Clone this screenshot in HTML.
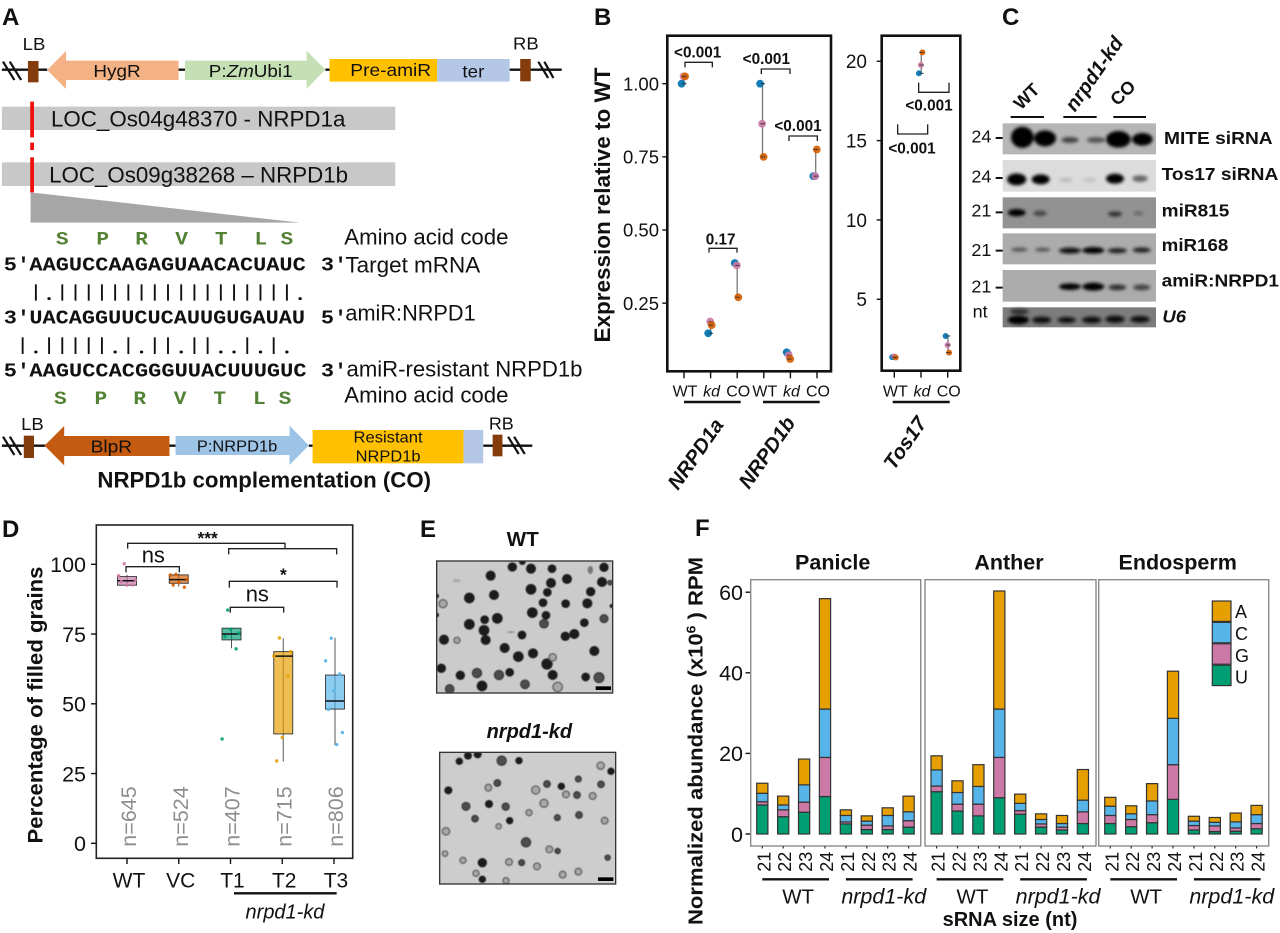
<!DOCTYPE html>
<html lang="en">
<head>
<meta charset="utf-8">
<title>NRPD1 figure</title>
<style>
html,body{margin:0;padding:0;background:#fff;}
svg{display:block;}
text{font-family:"Liberation Sans",Arial,sans-serif;fill:#111;}
.b{font-weight:bold;}
.i{font-style:italic;}
.m{font-family:"Liberation Mono",monospace;font-weight:bold;}
.aa{font-family:"Liberation Mono",monospace;font-weight:bold;fill:#548235;font-size:56px;text-anchor:middle;}
.c{text-anchor:middle;}
.k{font-size:67px;}
.g{filter:url(#soft);}
.d{fill:#1c1c1c;}
.n{fill:#4e4e4e;stroke:#2e2e2e;stroke-width:3;}
.l{fill:#a8a8a8;stroke:#5e5e5e;stroke-width:4;}
</style>
</head>
<body>
<svg id="figure" xmlns="http://www.w3.org/2000/svg" width="1280" height="933" viewBox="0 0 1280 933">
<defs>
<filter id="soft" x="-10%" y="-10%" width="120%" height="120%"><feGaussianBlur stdDeviation="1.6"/></filter>
<filter id="band" x="-40%" y="-80%" width="180%" height="260%"><feGaussianBlur stdDeviation="5"/></filter>
<clipPath id="clipWT"><rect x="50" y="153" width="528" height="396"/></clipPath>
<clipPath id="clipKD"><rect x="59" y="727" width="528" height="395"/></clipPath>
</defs>
<rect x="0" y="0" width="1280" height="933" fill="#fff"/>

<text x="2" y="25" class="b" font-size="24">A</text>
<text x="594" y="25" class="b" font-size="24">B</text>
<text x="1002" y="25" class="b" font-size="24">C</text>
<text x="2" y="537" class="b" font-size="24">D</text>
<text x="420" y="537" class="b" font-size="24">E</text>
<text x="695" y="536" class="b" font-size="24">F</text>

<!-- PANEL A top -->
<g id="panel-a-top" transform="scale(0.3775,0.33333)">
<path d="M5 209H125M473 209H490M862 209H873M1350 209H1488" stroke="#111" stroke-width="7" fill="none"/>
<path d="M8 185L38 240M26 185L56 240M1426 185L1452 234M1442 185L1466 234" stroke="#111" stroke-width="6" fill="none"/>
<rect x="74" y="183" width="28" height="64" fill="#843c0c"/>
<rect x="1378" y="177" width="28" height="67" fill="#843c0c"/>
<polygon points="125,210 175,153 175,182 473,182 473,240 175,240 175,267" fill="#f4b183"/>
<polygon points="490,182 812,182 812,152 862,209 812,267 812,240 490,240" fill="#c5e0b4"/>
<rect x="873" y="177" width="285" height="68" fill="#ffc000"/>
<rect x="1158" y="177" width="192" height="68" fill="#b4c7e7"/>
<text x="90" y="150" class="c" font-size="54" textLength="60" lengthAdjust="spacingAndGlyphs">LB</text>
<text x="1393" y="148" class="c" font-size="54" textLength="68" lengthAdjust="spacingAndGlyphs">RB</text>
<text x="310" y="231" class="c" font-size="54" textLength="125" lengthAdjust="spacingAndGlyphs">HygR</text>
<text x="664" y="231" class="c" font-size="54" textLength="222" lengthAdjust="spacingAndGlyphs">P:<tspan class="i">Zm</tspan>Ubi1</text>
<text x="1035" y="228" class="c" font-size="54" textLength="214" lengthAdjust="spacingAndGlyphs">Pre-amiR</text>
<text x="1254" y="232" class="c" font-size="54" textLength="58" lengthAdjust="spacingAndGlyphs">ter</text>
<rect x="5" y="320" width="1042" height="70" fill="#c8c8c8"/>
<rect x="5" y="487" width="1042" height="71" fill="#c8c8c8"/>
<text x="135" y="380" font-size="67" textLength="780" lengthAdjust="spacingAndGlyphs">LOC_Os04g48370 - NRPD1a</text>
<text x="130" y="548" font-size="67" textLength="792" lengthAdjust="spacingAndGlyphs">LOC_Os09g38268 – NRPD1b</text>
<path d="M85 305V412M85 428V450M85 472V577" stroke="#f01010" stroke-width="10" fill="none"/>
<polygon points="81,577 81,668 795,668" fill="#a6a6a6"/>
</g>

<!-- PANEL A sequences -->
<g id="panel-a-seq" transform="translate(0,220) scale(0.3775,0.33333)">
<g>
<text class="aa" x="165" y="73">S</text><text class="aa" x="272" y="73">P</text><text class="aa" x="375" y="73">R</text><text class="aa" x="481" y="73">V</text><text class="aa" x="586" y="73">T</text><text class="aa" x="691" y="73">L</text><text class="aa" x="760" y="73">S</text>
</g>
<text x="912" y="73" class="k" textLength="435" lengthAdjust="spacingAndGlyphs">Amino acid code</text>
<text x="10" y="152" class="m" font-size="58">5′</text>
<text x="78" y="152" class="m" font-size="58" textLength="732" lengthAdjust="spacingAndGlyphs">AAGUCCAAGAGUAACACUAUC</text>
<text x="850" y="152" class="m" font-size="58">3′</text>
<text x="915" y="157" class="k" textLength="357" lengthAdjust="spacingAndGlyphs">Target mRNA</text>
<g id="match-row-1"></g>
<text x="10" y="310" class="m" font-size="58">3′</text>
<text x="78" y="310" class="m" font-size="58" textLength="730" lengthAdjust="spacingAndGlyphs">UACAGGUUCUCAUUGUGAUAU</text>
<text x="850" y="310" class="m" font-size="58">5′</text>
<text x="915" y="302" class="k" textLength="345" lengthAdjust="spacingAndGlyphs">amiR:NRPD1</text>
<g id="match-row-2"></g>
<text x="10" y="470" class="m" font-size="58">5′</text>
<text x="78" y="470" class="m" font-size="58" textLength="734" lengthAdjust="spacingAndGlyphs">AAGUCCACGGGUUACUUUGUC</text>
<text x="850" y="470" class="m" font-size="58">3′</text>
<text x="918" y="470" class="k" textLength="625" lengthAdjust="spacingAndGlyphs">amiR-resistant NRPD1b</text>
<g>
<text class="aa" x="160" y="552">S</text><text class="aa" x="267" y="552">P</text><text class="aa" x="370" y="552">R</text><text class="aa" x="477" y="552">V</text><text class="aa" x="582" y="552">T</text><text class="aa" x="687" y="552">L</text><text class="aa" x="755" y="552">S</text>
</g>
<text x="912" y="548" class="k" textLength="435" lengthAdjust="spacingAndGlyphs">Amino acid code</text>

<path d="M5 677H120M449 677H465M818 677H828M1280 677H1410" stroke="#111" stroke-width="7" fill="none"/>
<path d="M8 650L38 705M26 650L56 705M1346 650L1374 702M1362 650L1390 702" stroke="#111" stroke-width="6" fill="none"/>
<rect x="63" y="647" width="27" height="67" fill="#843c0c"/>
<rect x="1305" y="644" width="26" height="65" fill="#843c0c"/>
<polygon points="118,677 170,618 170,648 449,648 449,708 170,708 170,736" fill="#c55a11"/>
<polygon points="465,648 767,648 767,617 818,676 767,735 767,705 465,705" fill="#9dc3e6"/>
<rect x="828" y="630" width="400" height="100" fill="#ffc000"/>
<rect x="1228" y="630" width="52" height="100" fill="#b4c7e7"/>
<text x="86" y="630" class="c" font-size="54" textLength="60" lengthAdjust="spacingAndGlyphs">LB</text>
<text x="1328" y="628" class="c" font-size="54" textLength="66" lengthAdjust="spacingAndGlyphs">RB</text>
<text x="295" y="697" class="c" font-size="54" textLength="110" lengthAdjust="spacingAndGlyphs">BlpR</text>
<text x="628" y="695" class="c" font-size="48" textLength="213" lengthAdjust="spacingAndGlyphs">P:NRPD1b</text>
<text x="1028" y="668" class="c" font-size="48" textLength="183" lengthAdjust="spacingAndGlyphs">Resistant</text>
<text x="1028" y="725" class="c" font-size="48" textLength="172" lengthAdjust="spacingAndGlyphs">NRPD1b</text>
<text x="258" y="802" class="b" font-size="67" textLength="884" lengthAdjust="spacingAndGlyphs">NRPD1b complementation (CO)</text>
</g>

<!-- PANEL B -->
<g id="panel-b">
<rect x="667.3" y="35.7" width="163.7" height="335.6" fill="none" stroke="#111" stroke-width="2.6"/>
<rect x="881.7" y="35.7" width="78.6" height="335" fill="none" stroke="#111" stroke-width="2.6"/>
<text transform="translate(610,205) rotate(-90)" class="b c" font-size="22" textLength="275" lengthAdjust="spacingAndGlyphs">Expression relative to WT</text>
<g id="b-marks"></g>
<g transform="translate(590,20) scale(0.33333)">
<path d="M285 142V127H367V142" fill="none" stroke="#222" stroke-width="4"/>
<text x="323" y="112" class="b c" font-size="46">&lt;0.001</text>
<path d="M514 162V147H600V162" fill="none" stroke="#222" stroke-width="4"/>
<text x="529" y="132" class="b c" font-size="46">&lt;0.001</text>
<path d="M597 363V348H682V363" fill="none" stroke="#222" stroke-width="4"/>
<text x="624" y="333" class="b c" font-size="46">&lt;0.001</text>
<path d="M357 698V685H441V698" fill="none" stroke="#222" stroke-width="4"/>
<text x="392" y="673" class="b c" font-size="46">0.17</text>
<path d="M986 188V217H1077V188" fill="none" stroke="#222" stroke-width="4"/>
<text x="1017" y="272" class="b c" font-size="46">&lt;0.001</text>
<path d="M923 313V342H1013V313" fill="none" stroke="#222" stroke-width="4"/>
<text x="966" y="400" class="b c" font-size="46">&lt;0.001</text>
</g>
<path d="M684 402H740.7M763 402H819.7M892.7 402H949.7" stroke="#111" stroke-width="2.4"/>
<text transform="translate(678,491) rotate(-55)" class="b i" font-size="20.5">NRPD1a</text>
<text transform="translate(749,490) rotate(-55)" class="b i" font-size="20.5">NRPD1b</text>
<text transform="translate(894,471) rotate(-55)" class="b i" font-size="20.5">Tos17</text>
</g>

<!-- PANEL C -->
<g id="panel-c" transform="translate(960,20) scale(0.33333)">
<text transform="translate(183,272) rotate(-45)" class="b" font-size="54">WT</text>
<text transform="translate(345,278) rotate(-55)" class="b i" font-size="60">nrpd1-kd</text>
<text transform="translate(473,260) rotate(-45)" class="b" font-size="54">CO</text>
<path d="M152 291H252M310 291H410M460 291H558" stroke="#111" stroke-width="6"/>
<g>
<rect x="128" y="310" width="460" height="93" fill="#b6b6b6"/>
<g filter="url(#band)"><ellipse cx="187" cy="352" rx="34" ry="32" fill="#000"/><ellipse cx="255" cy="355" rx="33" ry="24" fill="#000"/><ellipse cx="330" cy="360" rx="26" ry="9" fill="#444"/><ellipse cx="408" cy="360" rx="28" ry="9" fill="#555"/><ellipse cx="475" cy="358" rx="37" ry="25" fill="#000"/><ellipse cx="547" cy="358" rx="31" ry="19" fill="#000"/></g>
</g>
<g>
<rect x="128" y="420" width="460" height="95" fill="#dcdcdc"/>
<g filter="url(#band)"><ellipse cx="170" cy="478" rx="29" ry="18" fill="#000"/><ellipse cx="242" cy="478" rx="27" ry="15" fill="#000"/><ellipse cx="318" cy="480" rx="20" ry="6" fill="#b8b8b8"/><ellipse cx="390" cy="480" rx="20" ry="6" fill="#c0c0c0"/><ellipse cx="465" cy="476" rx="27" ry="15" fill="#000"/><ellipse cx="540" cy="476" rx="23" ry="10" fill="#666"/></g>
</g>
<g>
<rect x="128" y="532" width="460" height="93" fill="#929292"/>
<g filter="url(#band)"><ellipse cx="170" cy="578" rx="27" ry="11" fill="#000"/><ellipse cx="240" cy="580" rx="20" ry="8" fill="#444"/><ellipse cx="465" cy="582" rx="21" ry="8" fill="#333"/><ellipse cx="535" cy="580" rx="15" ry="6" fill="#666"/></g>
</g>
<g>
<rect x="128" y="640" width="460" height="93" fill="#acacac"/>
<g filter="url(#band)"><ellipse cx="178" cy="689" rx="25" ry="6" fill="#555"/><ellipse cx="248" cy="689" rx="23" ry="6" fill="#555"/><ellipse cx="330" cy="692" rx="33" ry="9" fill="#111"/><ellipse cx="400" cy="691" rx="33" ry="10" fill="#000"/><ellipse cx="472" cy="692" rx="29" ry="8" fill="#222"/><ellipse cx="545" cy="690" rx="27" ry="8" fill="#222"/></g>
</g>
<g>
<rect x="128" y="750" width="460" height="95" fill="#acacac"/>
<g filter="url(#band)"><ellipse cx="330" cy="800" rx="33" ry="10" fill="#000"/><ellipse cx="400" cy="800" rx="33" ry="12" fill="#000"/><ellipse cx="472" cy="802" rx="27" ry="9" fill="#333"/><ellipse cx="545" cy="802" rx="26" ry="9" fill="#444"/></g>
</g>
<g>
<rect x="128" y="862" width="460" height="60" fill="#7c7c7c"/>
<g filter="url(#band)"><ellipse cx="175" cy="900" rx="32" ry="13" fill="#000"/><ellipse cx="178" cy="875" rx="28" ry="9" fill="#333"/><ellipse cx="245" cy="900" rx="29" ry="10" fill="#111"/><ellipse cx="320" cy="900" rx="27" ry="9" fill="#111"/><ellipse cx="395" cy="900" rx="29" ry="10" fill="#111"/><ellipse cx="465" cy="898" rx="29" ry="11" fill="#111"/><ellipse cx="540" cy="898" rx="29" ry="10" fill="#111"/></g>
</g>
<g font-size="54">
<text x="34" y="368">24</text>
<text x="34" y="488">24</text>
<text x="34" y="590">21</text>
<text x="34" y="708">21</text>
<text x="34" y="818">21</text>
<text x="38" y="892">nt</text>
<path d="M107 354H128M107 474H128M107 577H128M107 692H128M107 803H128" stroke="#111" stroke-width="6"/>
</g>
<g class="b" font-size="52">
<text x="612" y="372" textLength="326" lengthAdjust="spacingAndGlyphs">MITE siRNA</text>
<text x="605" y="480" textLength="350" lengthAdjust="spacingAndGlyphs">Tos17 siRNA</text>
<text x="605" y="590" textLength="203" lengthAdjust="spacingAndGlyphs">miR815</text>
<text x="605" y="693" textLength="200" lengthAdjust="spacingAndGlyphs">miR168</text>
<text x="605" y="800" textLength="352" lengthAdjust="spacingAndGlyphs">amiR:NRPD1</text>
<text x="607" y="908" class="i" textLength="71" lengthAdjust="spacingAndGlyphs">U6</text>
</g>
</g>

<!-- PANEL D -->
<g id="panel-d">
<rect x="96.3" y="525" width="256.4" height="333.3" fill="none" stroke="#222" stroke-width="1.6"/>
<text transform="translate(42.7,705) rotate(-90)" class="b c" font-size="21" textLength="277" lengthAdjust="spacingAndGlyphs">Percentage of filled grains</text>
<g id="d-marks"></g>
<g transform="translate(0,510) scale(0.33333)">
<path d="M383 116V100H855V116" fill="none" stroke="#222" stroke-width="4"/>
<path d="M686 133V116H1010V133" fill="none" stroke="#222" stroke-width="4"/>
<text x="623" y="102" class="b c" font-size="52">***</text>
<path d="M378 187V170H538V187" fill="none" stroke="#222" stroke-width="4"/>
<text x="460" y="158" class="c" font-size="66">ns</text>
<path d="M688 233V214H1011V233" fill="none" stroke="#222" stroke-width="4"/>
<text x="850" y="212" class="b c" font-size="52">*</text>
<path d="M691 308V292H851V308" fill="none" stroke="#222" stroke-width="4"/>
<text x="772" y="275" class="c" font-size="66">ns</text>
<path d="M702 1150H1010" stroke="#111" stroke-width="7"/>
<text x="855" y="1225" class="i c" font-size="60">nrpd1-kd</text>
</g>
</g>

<!-- PANEL E -->
<g id="panel-e" transform="translate(420,510) scale(0.33333)">
<text x="308" y="108" class="b c" font-size="62">WT</text>
<text x="328" y="684" class="b i c" font-size="60">nrpd1-kd</text>
<g>
<rect x="50" y="153" width="528" height="396" fill="#cbcbcb"/>
<g clip-path="url(#clipWT)"><g class="g">
<circle class="d" cx="212" cy="197" r="15"/><circle class="d" cx="277" cy="171" r="14"/><circle class="d" cx="333" cy="176" r="15"/><circle class="d" cx="396" cy="176" r="13"/><circle class="d" cx="441" cy="207" r="15"/><circle class="d" cx="552" cy="172" r="14"/><circle class="d" cx="546" cy="216" r="15"/><circle class="d" cx="393" cy="219" r="15"/><circle class="d" cx="333" cy="238" r="16"/><circle class="d" cx="382" cy="247" r="13"/><circle class="d" cx="512" cy="245" r="14"/><circle class="d" cx="148" cy="264" r="16"/><circle class="d" cx="222" cy="255" r="15"/><circle class="l" cx="69" cy="281" r="12"/><circle class="d" cx="369" cy="278" r="13"/><circle class="d" cx="437" cy="281" r="13"/><circle class="d" cx="502" cy="280" r="15"/><circle class="d" cx="337" cy="308" r="16"/><circle class="d" cx="378" cy="316" r="13"/><circle class="d" cx="194" cy="329" r="13"/><circle class="d" cx="232" cy="325" r="16"/><circle class="d" cx="148" cy="343" r="16"/><circle class="n" cx="372" cy="341" r="13"/><circle class="d" cx="493" cy="338" r="13"/><circle class="n" cx="552" cy="326" r="12"/><circle class="d" cx="192" cy="361" r="16"/><circle class="d" cx="197" cy="390" r="15"/><circle class="d" cx="72" cy="389" r="15"/><circle class="d" cx="306" cy="375" r="13"/><circle class="d" cx="436" cy="379" r="14"/><circle class="d" cx="463" cy="372" r="15"/><circle class="d" cx="254" cy="414" r="15"/><circle class="d" cx="295" cy="440" r="16"/><circle class="d" cx="339" cy="430" r="15"/><circle class="d" cx="523" cy="423" r="15"/><circle class="d" cx="381" cy="462" r="17"/><circle class="d" cx="64" cy="475" r="14"/><circle class="d" cx="121" cy="496" r="14"/><circle class="n" cx="171" cy="489" r="14"/><circle class="n" cx="237" cy="495" r="14"/><circle class="d" cx="269" cy="487" r="13"/><circle class="d" cx="398" cy="495" r="15"/><circle class="d" cx="497" cy="501" r="13"/><circle class="n" cx="537" cy="503" r="15"/><circle class="n" cx="315" cy="523" r="13"/><circle class="d" cx="186" cy="528" r="16"/><circle class="n" cx="89" cy="537" r="13"/><circle class="l" cx="413" cy="531" r="14"/><circle class="d" cx="307" cy="155" r="10"/><circle class="d" cx="50" cy="258" r="7"/><circle class="d" cx="50" cy="315" r="7"/><circle class="d" cx="575" cy="288" r="6"/><circle class="n" cx="570" cy="218" r="7"/><circle class="l" cx="111" cy="391" r="9"/><circle class="l" cx="398" cy="442" r="11"/><ellipse cx="511" cy="180" rx="8" ry="12" fill="#777"/><ellipse cx="110" cy="212" rx="12" ry="5" fill="#aaa"/><ellipse cx="272" cy="366" rx="12" ry="3" fill="#999"/>
</g></g>
<rect x="527" y="529" width="46" height="11" fill="#000"/>
<rect x="50" y="153" width="528" height="396" fill="none" stroke="#333" stroke-width="4"/>
</g>
<g>
<rect x="59" y="727" width="528" height="395" fill="#cdcdcd"/>
<g clip-path="url(#clipKD)"><g class="g">
<circle class="d" cx="118" cy="754" r="11"/><circle class="d" cx="144" cy="737" r="12"/><circle class="d" cx="173" cy="733" r="12"/><circle class="n" cx="245" cy="752" r="14"/><circle class="d" cx="297" cy="752" r="11"/><circle class="d" cx="573" cy="784" r="11"/><circle class="l" cx="542" cy="767" r="11"/><circle class="d" cx="85" cy="841" r="12"/><circle class="l" cx="205" cy="833" r="10"/><circle class="n" cx="232" cy="819" r="10"/><circle class="l" cx="347" cy="840" r="12"/><circle class="n" cx="381" cy="822" r="10"/><circle class="d" cx="424" cy="829" r="11"/><circle class="n" cx="475" cy="807" r="9"/><circle class="l" cx="438" cy="853" r="10"/><circle class="n" cx="471" cy="855" r="10"/><circle class="n" cx="543" cy="823" r="10"/><circle class="l" cx="518" cy="858" r="10"/><circle class="n" cx="138" cy="889" r="12"/><circle class="d" cx="207" cy="882" r="12"/><circle class="n" cx="257" cy="890" r="11"/><circle class="n" cx="165" cy="926" r="10"/><circle class="d" cx="269" cy="932" r="11"/><circle class="l" cx="327" cy="908" r="9"/><circle class="n" cx="477" cy="915" r="10"/><circle class="n" cx="412" cy="923" r="9"/><circle class="l" cx="554" cy="932" r="10"/><circle class="l" cx="78" cy="964" r="11"/><circle class="l" cx="236" cy="949" r="8"/><circle class="n" cx="318" cy="997" r="14"/><circle class="l" cx="388" cy="1018" r="10"/><circle class="n" cx="413" cy="1023" r="8"/><circle class="l" cx="75" cy="1031" r="8"/><circle class="l" cx="129" cy="1051" r="9"/><circle class="d" cx="187" cy="1058" r="14"/><circle class="l" cx="267" cy="1056" r="10"/><circle class="n" cx="305" cy="1058" r="9"/><circle class="l" cx="351" cy="1069" r="10"/><circle class="n" cx="563" cy="1043" r="8"/><circle class="l" cx="168" cy="1090" r="9"/><circle class="d" cx="187" cy="1108" r="11"/><circle class="l" cx="258" cy="1112" r="9"/><circle class="l" cx="428" cy="1094" r="10"/><circle class="l" cx="475" cy="1085" r="10"/><circle class="l" cx="372" cy="880" r="12"/>
</g></g>
<rect x="534" y="1102" width="46" height="11" fill="#000"/>
<rect x="59" y="727" width="528" height="395" fill="none" stroke="#333" stroke-width="4"/>
</g>
</g>

<!-- PANEL F -->
<g id="panel-f">
<text transform="translate(702.7,741) rotate(-90)" class="b c" font-size="20.5" textLength="368" lengthAdjust="spacingAndGlyphs">Normalized abundance (x10<tspan font-size="13" dy="-7">6</tspan><tspan dy="7"> ) RPM</tspan></text>
<g id="f-marks"></g>
<text x="1010" y="926" class="b c" font-size="20">sRNA size (nt)</text>
</g>

<script>
// ---- Panel B data ----
const bConditions = ['WT', 'kd', 'CO', 'WT', 'kd', 'CO'];
const bYTicks = [0.25, 0.5, 0.75, 1];
const bYTickLabels = ['0.25', '0.50', '0.75', '1.00'];
const bRep1 = [1.0, 0.147, 0.387, 1.0, 0.082, 0.684];
const bRep2 = [1.025, 0.187, 0.379, 0.863, 0.072, 0.684];
const bRep3 = [1.025, 0.175, 0.27, 0.75, 0.059, 0.775];
const tosConditions = ['WT', 'kd', 'CO'];
const tosYTicks = [5, 10, 15, 20];
const tosRep1 = [1.36, 19.24, 2.69];
const tosRep2 = [1.4, 19.76, 2.12];
const tosRep3 = [1.33, 20.56, 1.64];

// ---- Panel D data ----
const dCategories = ['WT', 'VC', 'T1', 'T2', 'T3'];
const dSampleSizes = ['n=645', 'n=524', 'n=407', 'n=715', 'n=806'];
const dYTicks = [0, 25, 50, 75, 100];
const dQ1 = [92.5, 93.2, 72.9, 39.2, 48.1];
const dMedian = [94.1, 94.5, 75, 67.1, 51];
const dQ3 = [95.6, 96.2, 77.1, 68.7, 60.3];
const dWhiskerLow = [92, 92, 69.9, 29.3, 35.2];
const dWhiskerHigh = [96.2, 96.6, 77.3, 73.5, 73.7];
const dPointsWT = [100.2, 95.9, 92.6, 92.6, 93.8, 94.4];
const dPointsVC = [96.4, 96.2, 91.8, 93.4, 92.6, 94.6];
const dPointsT1 = [83.6, 37.4, 69.7, 76.7, 74.1, 75.3];
const dPointsT2 = [73.6, 67.1, 60, 37.9, 29.5, 68.7];
const dPointsT3 = [73.5, 65.4, 60.7, 54.7, 48, 39.7, 35.4];

// ---- Panel F data ----
const fSizes = ['21', '22', '23', '24', '21', '22', '23', '24'];
const fTissues = ['Panicle', 'Anther', 'Endosperm'];
const fYTicks = [0, 20, 40, 60];
const fNucleotides = ['U', 'G', 'C', 'A'];
const panicleU = [7.2, 4.3, 5.4, 9.3, 2.5, 1.1, 1.1, 1.7];
const panicleG = [0.8, 1.7, 2.5, 9.7, 0.5, 1.1, 0.9, 1.6];
const panicleC = [2.1, 1.2, 4.3, 12, 1.6, 1.0, 2.6, 2.2];
const panicleA = [2.5, 2.2, 6.4, 27.4, 1.4, 1.3, 1.9, 3.9];
const antherU = [10.5, 5.7, 4.5, 9, 4.9, 1.7, 1, 2.6];
const antherG = [1.4, 1.7, 2.9, 10, 0.9, 0.8, 0.7, 2.9];
const antherC = [4, 2.9, 4.4, 12, 1.8, 1.1, 0.9, 2.9];
const antherA = [3.5, 2.9, 5.4, 29.3, 2.3, 1.4, 2, 7.6];
const endospermU = [2.6, 1.8, 2.8, 8.6, 1, 0.6, 0.7, 1.3];
const endospermG = [2, 1.8, 2, 8.6, 1.1, 1.4, 0.8, 1.3];
const endospermC = [2.3, 1.4, 3.4, 11.5, 1.1, 0.9, 1.5, 2.2];
const endospermA = [2.2, 2, 4.3, 11.7, 1.2, 1.2, 2.2, 2.3];

// ---- Alignment match patterns ----
const matchPattern1 = '|.||||||||||||||||||.';
const matchPattern2 = '|.|||||.|.||.||..|.|.';

const SVGNS = 'http://www.w3.org/2000/svg';
function mk(parent, tag, attrs, txt) {
  const el = document.createElementNS(SVGNS, tag);
  for (const k in attrs) el.setAttribute(k, attrs[k]);
  if (txt !== undefined) el.textContent = txt;
  parent.appendChild(el);
  return el;
}

// ---- Alignment rows ----
function drawMatches(parentId, pattern, startX, top, bottom) {
  const parent = document.getElementById(parentId);
  for (let i = 0; i < pattern.length; i++) {
    const cx = startX + 35 * i;
    if (pattern[i] === '|') {
      const bar = mk(parent, 'line', {x1: cx, x2: cx, y1: top, y2: bottom, stroke: '#111', 'stroke-width': 5});
      
      
    } else {
      const dot = mk(parent, 'circle', {cx: cx, cy: bottom - 6, r: 4.5, fill: '#111'});
      
      
    }
  }
}
drawMatches('match-row-1', matchPattern1, 95, 193, 242);
drawMatches('match-row-2', matchPattern2, 60, 352, 402);

// ---- Panel B ----
(function () {
  const g = document.getElementById('b-marks');
  const yExpr = v => 83.7 + (1 - v) * 292.6;
  const xExpr = i => 684 + 26.6 * i;
  const yTos = v => 299.3 - (v - 5) * 15.87;
  const xTos = i => 894.3 + 26.7 * i;
  const repColors = ['#0072B2', '#CC79A7', '#D55E00'];
  const repOffsets = [-2.4, -0.4, 1.1];

  function yAxis(ticks, labels, scale, frameX, labelX, size, name) {
    ticks.forEach((t, i) => {
      const tk = mk(g, 'line', {x1: frameX - 5, x2: frameX, y1: scale(t), y2: scale(t), stroke: '#111', 'stroke-width': 1.4});
      
      
      const lb = mk(g, 'text', {x: labelX, y: scale(t) + size * 0.36, 'text-anchor': 'end', 'font-size': size}, labels[i]);
      
      
    });
  }
  yAxis(bYTicks, bYTickLabels, yExpr, 667.3, 659, 18.5, 'expression');
  yAxis(tosYTicks, tosYTicks.map(String), yTos, 881.7, 867, 19, 'tos17');

  function xAxis(cats, scale, bottom, name) {
    cats.forEach((c, i) => {
      const tk = mk(g, 'line', {x1: scale(i), x2: scale(i), y1: bottom, y2: bottom + 7, stroke: '#111', 'stroke-width': 1.4});
      
      
      const attrs = {x: scale(i) + 1, y: 396.7, 'text-anchor': 'middle', 'font-size': 16};
      if (c === 'kd') attrs['font-style'] = 'italic';
      const lb = mk(g, 'text', attrs, c);
      
      
    });
  }
  xAxis(bConditions, xExpr, 371.3, 'expression');
  xAxis(tosConditions, xTos, 370.7, 'tos17');

  function groupMarks(reps, cats, xs, ys, r, shift, name) {
    cats.forEach((c, i) => {
      const vals = reps.map(a => a[i]);
      const cx = xs(i) + shift(i);
      const err = mk(g, 'line', {x1: cx, x2: cx, y1: ys(Math.max.apply(null, vals)), y2: ys(Math.min.apply(null, vals)), stroke: '#777', 'stroke-width': 1.3});
      
      
      reps.forEach((arr, s) => {
        const pt = mk(g, 'circle', {cx: cx + repOffsets[s], cy: ys(arr[i]), r: r, fill: repColors[s], 'fill-opacity': 0.92});
        
        
        const cap = mk(g, 'line', {x1: cx - 2, x2: cx + 2.5, y1: ys(arr[i]), y2: ys(arr[i]), stroke: '#333', 'stroke-width': 0.9});
        
        
      });
    });
  }
  groupMarks([bRep1, bRep2, bRep3], bConditions, xExpr, yExpr, 3.9, i => (i < 3 ? 0 : -1.3), 'expression');
  groupMarks([tosRep1, tosRep2, tosRep3], tosConditions, xTos, yTos, 3, () => 0.3, 'tos17');
})();

// ---- Panel D ----
(function () {
  const g = document.getElementById('d-marks');
  const x = i => 127 + 51.75 * i;
  const y = v => 843.3 - 2.79 * v;
  const colors = ['#CC79A7', '#D55E00', '#009E73', '#E69F00', '#56B4E9'];
  const pointSets = [dPointsWT, dPointsVC, dPointsT1, dPointsT2, dPointsT3];

  dYTicks.forEach(t => {
    const tk = mk(g, 'line', {x1: 91, x2: 96.3, y1: y(t), y2: y(t), stroke: '#111', 'stroke-width': 1.4});
    
    
    const lb = mk(g, 'text', {x: 86, y: y(t) + 7.8, 'text-anchor': 'end', 'font-size': 21.5}, String(t));
    
    
  });

  dCategories.forEach((c, i) => {
    const cx = x(i);
    const tk = mk(g, 'line', {x1: cx, x2: cx, y1: 858.3, y2: 864, stroke: '#111', 'stroke-width': 1.4});
    
    
    const lb = mk(g, 'text', {x: cx + 2, y: 887.7, 'text-anchor': 'middle', 'font-size': 21}, c);
    
    
    const n = mk(g, 'text', {transform: 'translate(' + (cx + 9) + ',846.7) rotate(-90)', 'font-size': 21.5, style: 'fill:#8e8e8e'}, dSampleSizes[i]);
    
    

    const bx = cx + (i > 1 ? 1 : 0);
    const wh = mk(g, 'line', {x1: bx, x2: bx, y1: y(dWhiskerHigh[i]), y2: y(dWhiskerLow[i]), stroke: '#555', 'stroke-width': 1});
    
    
    const box = mk(g, 'rect', {x: bx - 9.5, width: 19, y: y(dQ3[i]), height: y(dQ1[i]) - y(dQ3[i]), fill: colors[i], 'fill-opacity': 0.68, stroke: '#333', 'stroke-width': 0.9});
    
    
    const med = mk(g, 'line', {x1: bx - 9.5, x2: bx + 9.5, y1: y(dMedian[i]), y2: y(dMedian[i]), stroke: '#111', 'stroke-width': 1.5});
    
    
    pointSets[i].forEach((v, j) => {
      const jitter = ((j * 5 + 2) % 7 - 3) * 2.8;
      const pt = mk(g, 'circle', {cx: cx + jitter, cy: y(v), r: 1.7, fill: colors[i], 'fill-opacity': 0.9});
      
      
    });
  });
})();

// ---- Panel F ----
(function () {
  const g = document.getElementById('f-marks');
  const panels = [
    {left: 750.7, right: 920.7, series: [panicleU, panicleG, panicleC, panicleA]},
    {left: 925, right: 1096, series: [antherU, antherG, antherC, antherA]},
    {left: 1098.7, right: 1268.7, series: [endospermU, endospermG, endospermC, endospermA]}
  ];
  const fills = {U: '#009E73', G: '#CC79A7', C: '#56B4E9', A: '#E69F00'};
  const y = v => 834 - 4.03 * v;
  const top = 579.7, bottom = 846;

  fYTicks.forEach(t => {
    const tk = mk(g, 'line', {x1: 745.5, x2: 750.7, y1: y(t), y2: y(t), stroke: '#111', 'stroke-width': 1.4});
    
    
    const lb = mk(g, 'text', {x: 743, y: y(t) + 7.8, 'text-anchor': 'end', 'font-size': 21.5}, String(t));
    
    
  });

  panels.forEach((p, pi) => {
    const x = i => p.left + 11.6 + 20.9 * i;
    const frame = mk(g, 'rect', {x: p.left, y: top, width: p.right - p.left, height: bottom - top, fill: 'none', stroke: '#8a8a8a', 'stroke-width': 1.4});
    
    
    const title = mk(g, 'text', {x: (p.left + p.right) / 2 + (pi === 0 ? -3 : (pi === 1 ? -1.5 : -6)), y: 569.3, 'text-anchor': 'middle', 'font-size': 21.5, 'font-weight': 'bold'}, fTissues[pi]);
    
    

    fSizes.forEach((s, i) => {
      let base = 0;
      p.series.forEach((arr, si) => {
        const nuc = fNucleotides[si];
        const v = arr[i];
        const seg = mk(g, 'rect', {x: x(i) - 5.6, width: 11.2, y: y(base + v), height: y(base) - y(base + v), fill: fills[nuc], stroke: '#333', 'stroke-width': 1.2});
        
        
        base += v;
      });
      const tk = mk(g, 'line', {x1: x(i), x2: x(i), y1: bottom, y2: bottom + 2.5, stroke: '#333', 'stroke-width': 1.2});
      
      
      const lb = mk(g, 'text', {transform: 'translate(' + (x(i) + 8) + ',871.7) rotate(-90)', 'font-size': 18}, s);
      
      
    });

    const groupNames = ['WT', 'nrpd1-kd'];
    groupNames.forEach((name, gi) => {
      const a = x(gi * 4), b = x(gi * 4 + 3) + 4;
      const rule = mk(g, 'line', {x1: a, x2: b, y1: 879.3, y2: 879.3, stroke: '#111', 'stroke-width': 2.4});
      
      
      const attrs = {x: (a + b) / 2 + (gi === 0 ? 2.5 : 4.5), y: 903.3, 'text-anchor': 'middle', 'font-size': gi === 0 ? 20.5 : 21.5};
      if (gi === 1) attrs['font-style'] = 'italic';
      const lb = mk(g, 'text', attrs, name);
      
      
    });
  });

  const legendOrder = ['A', 'C', 'G', 'U'];
  legendOrder.forEach((nuc, i) => {
    const sw = mk(g, 'rect', {x: 1212.3, y: 601 + 21.4 * i, width: 18.7, height: 20.4, fill: fills[nuc], stroke: '#333', 'stroke-width': 1.2});
    
    
    const lb = mk(g, 'text', {x: 1235, y: 618 + 21.9 * i, 'font-size': 18}, nuc);
    
    
  });
})();
</script>
</svg>
</body>
</html>
